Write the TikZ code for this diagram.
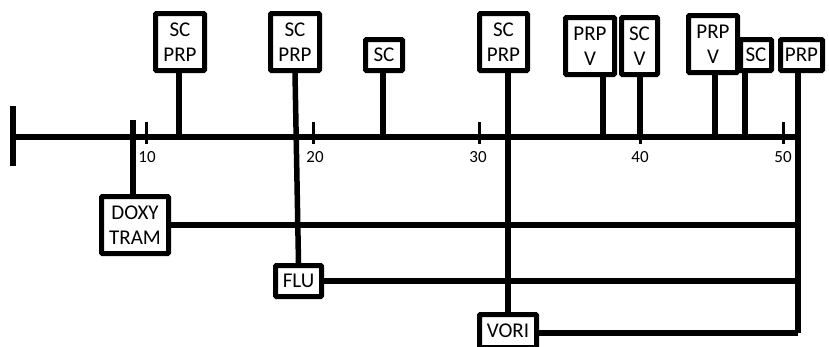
\documentclass[tikz,border=0pt]{standalone}
\usepackage{fontspec}
\setmainfont{Carlito}
\begin{document}
\begin{tikzpicture}[x=1pt,y=-1pt,
  lbox/.style={draw=black,line width=5pt,fill=white,inner sep=0pt,align=center,
    rounded corners=1pt,font=\fontsize{21}{25}\selectfont},
  conn/.style={line width=5.5pt},
  tickmark/.style={line width=3pt},
  ticklabel/.style={font=\fontsize{17}{20}\selectfont,inner sep=0pt}]
\useasboundingbox (0,0) rectangle (829,346);
% axis
\coordinate (L) at (13,137);
\coordinate (R) at (798,137);
\coordinate (Lt) at (13,106);
\coordinate (Lb) at (13,166);
\coordinate (Rb) at (798,333);
\coordinate (dtop) at (133,120);
\draw[conn] (L) -- (R);
\draw[conn] (Lt) -- (Lb);
% ticks
\foreach \n/\x/\lx in {10/146/147,20/313/315,30/479/478,40/640/640,50/783/783}{
  \draw[tickmark] (\x,122) -- (\x,144);
  \node[ticklabel] (t\n) at (\lx,157) {\n};
}
% top boxes
\node[lbox,minimum width=49pt,minimum height=57pt] (b1) at (180,42) {SC\\PRP};
\node[lbox,minimum width=49pt,minimum height=57pt] (b2) at (295,42) {SC\\PRP};
\node[lbox,minimum width=37pt,minimum height=31pt] (b3) at (384,55) {SC};
\node[lbox,minimum width=48pt,minimum height=57pt] (b4) at (503.5,42) {SC\\PRP};
\node[lbox,minimum width=49pt,minimum height=57pt] (b5) at (590,46) {PRP\\V};
\node[lbox,minimum width=36pt,minimum height=57pt] (b6) at (639.5,46) {SC\\V};
\node[lbox,minimum width=49pt,minimum height=57pt] (b7) at (713,44) {PRP\\V};
\node[lbox,minimum width=31pt,minimum height=31pt] (b8) at (756,55) {SC};
\node[lbox,minimum width=42pt,minimum height=31pt] (b9) at (801.5,55) {PRP};
% bottom boxes
\node[lbox,minimum width=67pt,minimum height=57pt] (doxy) at (135,225) {DOXY\\TRAM};
\node[lbox,minimum width=46pt,minimum height=31pt] (flu) at (298.5,281) {FLU};
\node[lbox,minimum width=57pt,minimum height=33pt] (vori) at (508,331) {VORI};
% stems
\draw[conn] ([xshift=-1pt]b1.south) -- ([xshift=-1pt]b1.south |- L);
\draw[conn] (b2.south) -- (flu.north);
\draw[conn] ([xshift=-1pt]b3.south) -- ([xshift=-1pt]b3.south |- L);
\draw[conn] (vori.north |- b4.south) -- (vori.north);
\draw[conn] ([xshift=13pt]b5.south) -- ([xshift=13pt]b5.south |- L);
\draw[conn] ([xshift=0.5pt]b6.south) -- ([xshift=0.5pt]b6.south |- L);
\draw[conn] ([xshift=2pt]b7.south) -- ([xshift=2pt]b7.south |- L);
\draw[conn] ([xshift=-11pt]b8.south) -- ([xshift=-11pt]b8.south |- L);
\draw[conn] (R |- b9.south) -- (Rb);
\draw[conn] (dtop) -- (dtop |- doxy.north);
% horizontal connectors
\draw[conn] (doxy.east) -- (doxy.east -| R);
\draw[conn] (flu.east) -- (flu.east -| R);
\draw[conn] ([yshift=-2pt]vori.east) -- ([yshift=-2pt]vori.east -| R);
\end{tikzpicture}
\end{document}
